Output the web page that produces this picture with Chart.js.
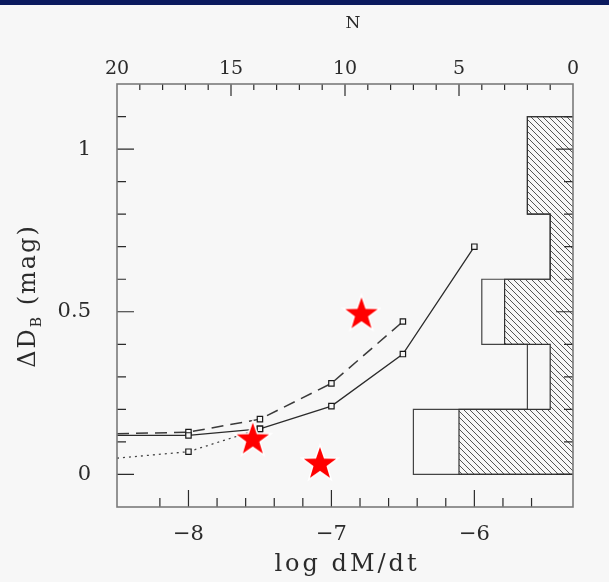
<!DOCTYPE html>
<html>
<head>
<meta charset="utf-8">
<script src="https://cdn.jsdelivr.net/npm/chart.js@4"></script>
<style>
  html, body { margin: 0; padding: 0; background: #f7f7f7; }
  #band { position: absolute; left: 0; top: 0; width: 609px; height: 5px; background: #0b1a5e; }
  #wrap { position: absolute; left: 0; top: 0; width: 609px; height: 582px; }
</style>
</head>
<body>
<div id="wrap"><canvas id="chart" width="609" height="582"></canvas></div>
<div id="band"></div>
<script>
// model curves: log dM/dt vs Delta D_B
const logMdot = [-8.5, -8, -7.5, -7, -6.5, -6];
const solidVals = [0.12, 0.12, 0.14, 0.21, 0.37, 0.70];
const dashedVals = [0.125, 0.13, 0.17, 0.28, 0.47];
const dottedVals = [0.05, 0.07, 0.14];

// observed objects (red stars)
const starX = [-6.79, -7.55, -7.08];
const starY = [0.495, 0.11, 0.035];

// histogram of Delta D_B, counts on the top N axis
const binEdges = [0, 0.2, 0.4, 0.6, 0.8, 1.1];
const countsAll = [7, 2, 4, 1, 2];
const countsHatched = [5, 1, 3, 1, 2];

const xMajor = [-8, -7, -6];
const yMajor = [0, 0.5, 1];
const nMajor = [20, 15, 10, 5, 0];

const ink = '#2b2b2b';
const frame = '#7a7a7a';
const serif = "'DejaVu Serif', 'Liberation Serif', serif";

function pts(xs, ys) {
  return ys.map((y, i) => ({x: xs[i], y: y}));
}

function outline(counts) {
  const out = [{x: 0, y: binEdges[0]}];
  counts.forEach((c, i) => {
    out.push({x: c, y: binEdges[i]});
    out.push({x: c, y: binEdges[i + 1]});
  });
  out.push({x: 0, y: binEdges[binEdges.length - 1]});
  return out;
}

// hatch pattern
const pc = document.createElement('canvas');
pc.width = 6; pc.height = 6;
const pctx = pc.getContext('2d');
pctx.strokeStyle = '#555';
pctx.lineWidth = 1;
pctx.beginPath();
pctx.moveTo(-1, -1); pctx.lineTo(7, 7);
pctx.moveTo(-1, 5); pctx.lineTo(1, 7);
pctx.moveTo(5, -1); pctx.lineTo(7, 1);
pctx.stroke();
const hatch = pctx.createPattern(pc, 'repeat');

// star marker
const star = document.createElement('canvas');
star.width = 40; star.height = 40;
const sctx = star.getContext('2d');
sctx.beginPath();
for (let i = 0; i < 10; i++) {
  const r = i % 2 === 0 ? 17 : 6.8;
  const a = -Math.PI / 2 + i * Math.PI / 5;
  const px = 20 + r * Math.cos(a), py = 21 + r * Math.sin(a);
  if (i === 0) sctx.moveTo(px, py); else sctx.lineTo(px, py);
}
sctx.closePath();
sctx.lineJoin = 'miter';
sctx.strokeStyle = '#ffffff';
sctx.lineWidth = 3;
sctx.stroke();
sctx.fillStyle = '#ff0000';
sctx.fill();

function isMajor(v, list) {
  return list.some(m => Math.abs(m - v) < 1e-6);
}

// frame, inward ticks and titles
const decorations = {
  id: 'decorations',
  afterDatasetsDraw(chart) {
    const ctx = chart.ctx;
    const a = chart.chartArea;
    const sx = chart.scales.x, sy = chart.scales.y, sn = chart.scales.n;
    ctx.save();
    ctx.strokeStyle = ink;
    ctx.lineWidth = 1.2;
    ctx.beginPath();
    sx.ticks.forEach(t => {
      const p = sx.getPixelForValue(t.value);
      if (p <= a.left + 1 || p >= a.right - 1) return;
      const len = isMajor(t.value, xMajor) ? 17 : 9;
      ctx.moveTo(p, a.bottom); ctx.lineTo(p, a.bottom - len);
    });
    sy.ticks.forEach(t => {
      const p = sy.getPixelForValue(t.value);
      if (p <= a.top + 1 || p >= a.bottom - 1) return;
      const len = isMajor(t.value, yMajor) ? 17 : 9;
      ctx.moveTo(a.left, p); ctx.lineTo(a.left + len, p);
      ctx.moveTo(a.right, p); ctx.lineTo(a.right - len, p);
    });
    sn.ticks.forEach(t => {
      const p = sn.getPixelForValue(t.value);
      if (p <= a.left + 1 || p >= a.right - 1) return;
      const len = isMajor(t.value, nMajor) ? 12 : 6;
      ctx.moveTo(p, a.top); ctx.lineTo(p, a.top + len);
    });
    ctx.stroke();
    ctx.strokeStyle = frame;
    ctx.lineWidth = 1.6;
    ctx.strokeRect(a.left, a.top, a.right - a.left, a.bottom - a.top);

    ctx.fillStyle = ink;
    ctx.textAlign = 'center';
    ctx.textBaseline = 'alphabetic';
    ctx.letterSpacing = '3px';
    ctx.font = '24px ' + serif;
    ctx.fillText('log dM/dt', 347, 571);
    ctx.letterSpacing = '0px';
    ctx.font = '17px ' + serif;
    ctx.fillText('N', 353, 28);

    // y title with subscript
    ctx.translate(35, 296);
    ctx.rotate(-Math.PI / 2);
    ctx.textAlign = 'left';
    ctx.letterSpacing = '2px';
    const main1 = 'ΔD', sub = 'B', main2 = ' (mag)';
    ctx.font = '24px ' + serif;
    const w1 = ctx.measureText(main1).width;
    const w3 = ctx.measureText(main2).width;
    ctx.font = '14px ' + serif;
    const w2 = ctx.measureText(sub).width;
    let x0 = -(w1 + w2 + w3) / 2;
    ctx.font = '24px ' + serif;
    ctx.fillText(main1, x0, 0);
    ctx.font = '14px ' + serif;
    ctx.fillText(sub, x0 + w1, 6);
    ctx.font = '24px ' + serif;
    ctx.fillText(main2, x0 + w1 + w2, 0);
    ctx.restore();
  }
};

const lineStyle = {
  borderColor: ink,
  borderWidth: 1.3,
  pointStyle: 'rect',
  pointBackgroundColor: '#f7f7f7',
  pointBorderColor: '#1a1a1a',
  pointBorderWidth: 1.2,
  fill: false,
  tension: 0,
  order: 1
};

new Chart(document.getElementById('chart'), {
  type: 'line',
  data: {
    datasets: [
      {
        data: pts(starX, starY),
        showLine: false,
        pointStyle: star,
        pointRadius: 17,
        order: 0
      },
      Object.assign({}, lineStyle, {
        data: pts(logMdot, solidVals),
        pointRadius: solidVals.map((v, i) => i === 0 ? 0 : 3.8)
      }),
      Object.assign({}, lineStyle, {
        data: pts(logMdot, dashedVals),
        borderColor: '#3a3a3a',
        borderWidth: 1.5,
        borderDash: [12, 7],
        pointRadius: dashedVals.map((v, i) => i === 0 ? 0 : 3.8)
      }),
      Object.assign({}, lineStyle, {
        data: pts(logMdot, dottedVals),
        borderColor: '#444',
        borderDash: [2, 4],
        pointRadius: dottedVals.map((v, i) => i === 0 ? 0 : 3.8)
      }),
      {
        data: outline(countsHatched),
        xAxisID: 'n',
        borderColor: '#333',
        borderWidth: 1.2,
        backgroundColor: hatch,
        fill: 'shape',
        pointRadius: 0,
        tension: 0,
        order: 2
      },
      {
        data: outline(countsAll),
        xAxisID: 'n',
        borderColor: '#444',
        borderWidth: 1.2,
        fill: false,
        pointRadius: 0,
        tension: 0,
        order: 3
      }
    ]
  },
  options: {
    responsive: false,
    animation: false,
    layout: { padding: { left: 0, top: 0, right: 36, bottom: 0 } },
    plugins: { legend: { display: false }, tooltip: { enabled: false } },
    scales: {
      x: {
        type: 'linear',
        position: 'bottom',
        min: -8.5,
        max: -5.31,
        grid: { display: false },
        border: { display: false },
        afterFit: s => { s.height = 75; },
        ticks: {
          stepSize: 0.2,
          maxTicksLimit: 100,
          maxRotation: 0,
          autoSkip: false,
          padding: 7,
          color: ink,
          font: { family: serif, size: 21 },
          callback: v => isMajor(v, xMajor) ? '\u2212' + Math.abs(Math.round(v)) : ''
        }
      },
      n: {
        type: 'linear',
        position: 'top',
        reverse: true,
        min: 0,
        max: 20,
        grid: { display: false },
        border: { display: false },
        afterFit: s => { s.height = 84; },
        ticks: {
          stepSize: 1,
          maxTicksLimit: 100,
          maxRotation: 0,
          autoSkip: false,
          padding: -4,
          color: ink,
          font: { family: serif, size: 19 },
          callback: v => isMajor(v, nMajor) ? String(v) : ''
        }
      },
      y: {
        type: 'linear',
        min: -0.1,
        max: 1.2,
        grid: { display: false },
        border: { display: false },
        afterFit: s => { s.width = 117; },
        ticks: {
          stepSize: 0.1,
          maxTicksLimit: 100,
          autoSkip: false,
          padding: 18,
          color: ink,
          font: { family: serif, size: 21 },
          callback: v => isMajor(v, yMajor) ? String(Math.round(v * 10) / 10) : ''
        }
      }
    }
  },
  plugins: [decorations]
});
</script>
</body>
</html>
